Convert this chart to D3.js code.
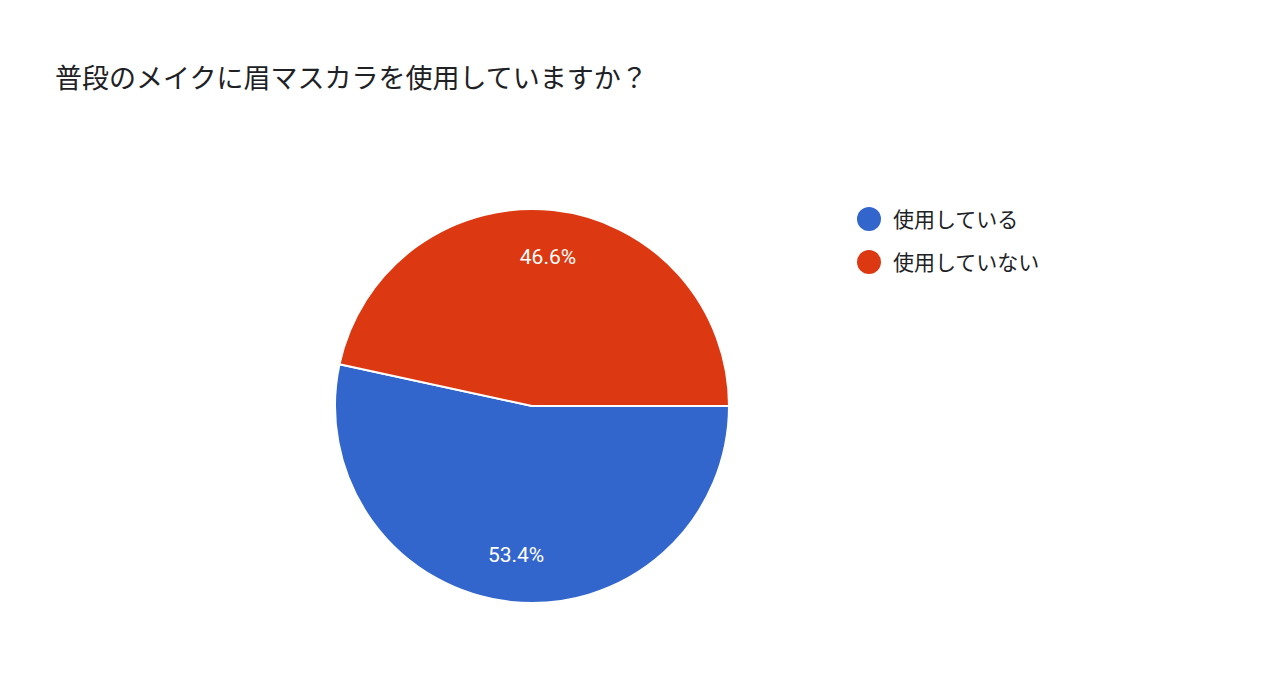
<!DOCTYPE html>
<html>
<head>
<meta charset="utf-8">
<script src="https://d3js.org/d3.v7.min.js"></script>
<style>
  body { margin: 0; background: #fff; }
  text { font-family: "Noto Sans CJK JP", "Noto Sans", sans-serif; }
</style>
</head>
<body>
<svg id="chart" width="1280" height="679"></svg>
<script>
  const categories = ["使用している", "使用していない"];
  const values = [53.4, 46.6];
  const colors = ["#3366cc", "#dc3912"];
  const title = "普段のメイクに眉マスカラを使用していますか？";

  const svg = d3.select("#chart");
  const cx = 532, cy = 406, r = 197;

  svg.append("text").attr("x", 55).attr("y", 88)
    .attr("font-size", 27).attr("fill", "#202124").text(title);

  // blue slice starts at 3 o'clock and runs clockwise
  const pie = d3.pie().sort(null).startAngle(Math.PI / 2).endAngle(Math.PI / 2 + 2 * Math.PI);
  const arcs = pie(values);
  const arc = d3.arc().innerRadius(0).outerRadius(r);
  const labelArc = d3.arc().innerRadius(r * 0.76).outerRadius(r * 0.76);

  const g = svg.append("g").attr("transform", `translate(${cx},${cy})`);
  g.selectAll("path").data(arcs).join("path")
    .attr("d", arc).attr("fill", (d, i) => colors[i])
    .attr("stroke", "#fff").attr("stroke-width", 2);

  g.selectAll("text").data(arcs).join("text")
    .attr("transform", d => `translate(${labelArc.centroid(d)})`)
    .attr("text-anchor", "middle").attr("dy", "0.35em")
    .attr("font-size", 21).attr("fill", "#fff")
    .style("font-family", "Roboto, Arial, sans-serif")
    .text(d => d.data.toFixed(1) + "%");

  const leg = svg.append("g").selectAll("g").data(categories).join("g")
    .attr("transform", (d, i) => `translate(869,${219 + i * 43})`);
  leg.append("circle").attr("r", 12).attr("fill", (d, i) => colors[i]);
  leg.append("text").attr("x", 24).attr("dy", "0.36em")
    .attr("font-size", 21).attr("fill", "#202124").text(d => d);
</script>
</body>
</html>
